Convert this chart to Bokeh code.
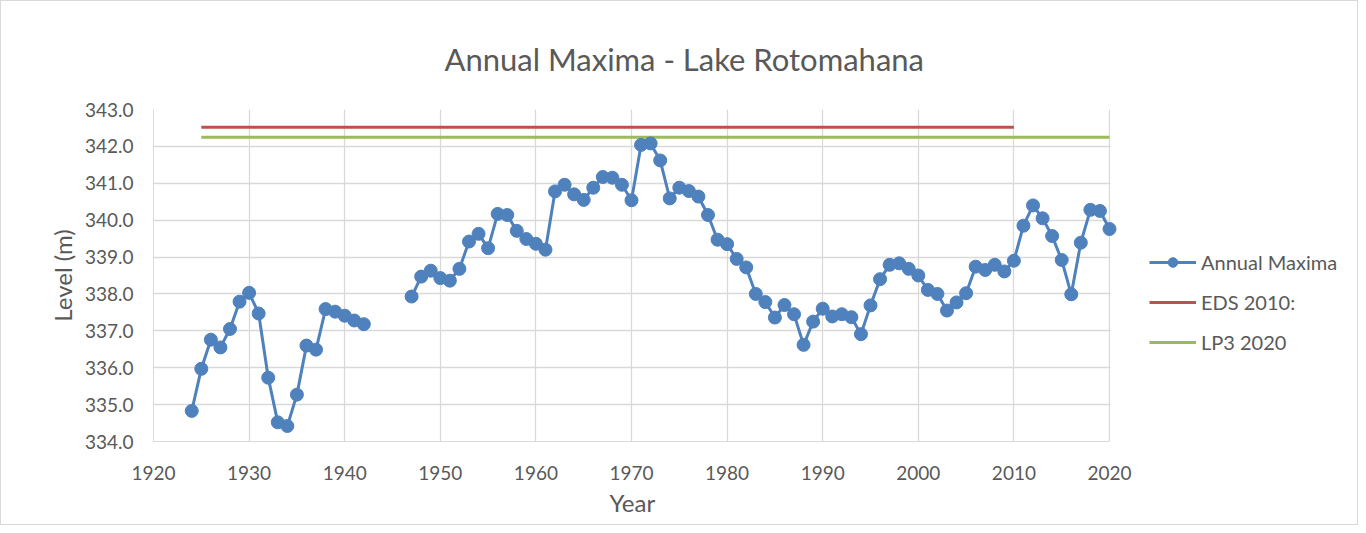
import numpy as np
from bokeh.plotting import figure
from bokeh.models import (ColumnDataSource, Legend, LegendItem, SingleIntervalTicker,
                          NumeralTickFormatter, Range1d, BoxAnnotation, Title)
from bokeh.embed import file_html
from bokeh.resources import INLINE

years = list(range(1924, 2021))
levels = [
    334.83, 335.97, 336.76, 336.55, 337.05, 337.79, 338.03, 337.47, 335.73, 334.52,  # 1924-1933
    334.42, 335.27, 336.60, 336.49, 337.59, 337.52, 337.41, 337.28, 337.18,          # 1934-1942
    None, None, None, None,                                                          # 1943-1946
    337.93, 338.47, 338.63, 338.43, 338.36, 338.68, 339.42, 339.63, 339.24, 340.17,  # 1947-1956
    340.14, 339.71, 339.49, 339.36, 339.20, 340.78, 340.96, 340.70, 340.55, 340.88,  # 1957-1966
    341.17, 341.15, 340.96, 340.54, 342.04, 342.08, 341.62, 340.59, 340.88, 340.79,  # 1967-1976
    340.64, 340.14, 339.47, 339.35, 338.95, 338.72, 338.00, 337.78, 337.36, 337.70,  # 1977-1986
    337.45, 336.62, 337.25, 337.60, 337.39, 337.45, 337.37, 336.91, 337.69, 338.40,  # 1987-1996
    338.79, 338.83, 338.68, 338.50, 338.11, 338.00, 337.55, 337.77, 338.02, 338.74,  # 1997-2006
    338.65, 338.79, 338.61, 338.90, 339.85, 340.40, 340.05, 339.57, 338.92, 337.99,  # 2007-2016
    339.39, 340.28, 340.25, 339.76,                                                  # 2017-2020
]
eds_years = [1925, 2010]
eds_level = [342.52, 342.52]
lp3_years = [1925, 2020]
lp3_level = [342.25, 342.25]

x_start, x_end = 1920, 2020
y_start, y_end = 334, 343

title_text = "Annual Maxima - Lake Rotomahana"
x_label = "Year"
y_label = "Level (m)"

FONT = "Lato"
GREY = "#595959"

# frame: 956 px for the 100-year axis; the frame is widened to the right to host the legend
FRAME_AXIS_PX = 956
FRAME_PX = 1198
x_view_end = x_start + (x_end - x_start) * FRAME_PX / FRAME_AXIS_PX

lv = [np.nan if v is None else v for v in levels]
src = ColumnDataSource(dict(x=years, y=lv))

p = figure(width=1358, height=525, output_backend="svg", toolbar_location=None,
           x_range=Range1d(x_start, x_view_end), y_range=Range1d(y_start, y_end),
           min_border_left=152, min_border_right=8, min_border_top=108, min_border_bottom=85)
p.styles = {"border": "1px solid #d9d9d9", "box-sizing": "border-box"}
p.outline_line_color = None
p.background_fill_color = "white"
p.border_fill_color = "white"

p.title = Title(text=title_text, align="left", offset=291, standoff=60, vertical_align="top",
                text_font=FONT, text_font_size="31px", text_font_style="normal",
                text_color=GREY)

for ax in (p.xaxis[0], p.yaxis[0]):
    ax.major_tick_line_color = None
    ax.minor_tick_line_color = None
    ax.axis_line_color = "#d9d9d9"
    ax.major_label_text_font = FONT
    ax.major_label_text_font_size = "19px"
    ax.major_label_text_color = GREY
    ax.axis_label_text_font = FONT
    ax.axis_label_text_font_size = "24px"
    ax.axis_label_text_color = GREY
    ax.axis_label_text_font_style = "normal"

p.xaxis[0].ticker = SingleIntervalTicker(interval=10)
p.xaxis[0].bounds = (x_start, x_end)
p.yaxis[0].ticker = SingleIntervalTicker(interval=1)
p.yaxis[0].formatter = NumeralTickFormatter(format="0.0")
p.yaxis[0].axis_label = y_label
p.xaxis[0].major_label_standoff = 18
p.yaxis[0].major_label_standoff = 14
p.yaxis[0].axis_label_standoff = 5

# x-axis label centred under the 1920-2020 span
xlab = Title(text=x_label, align="left", offset=456, standoff=6,
             text_font=FONT, text_font_size="24px", text_font_style="normal",
             text_color=GREY)
p.add_layout(xlab, "below")

p.xgrid[0].ticker = p.xaxis[0].ticker
p.ygrid[0].ticker = p.yaxis[0].ticker
p.xgrid.grid_line_color = "#d9d9d9"
p.ygrid.grid_line_color = "#d9d9d9"
p.xgrid.grid_line_width = 1.3
p.ygrid.grid_line_width = 1.3

# blank out the grid to the right of the last year (legend area)
mask = BoxAnnotation(left=x_end + 0.1, fill_color="white", fill_alpha=1.0,
                     line_color=None, level="underlay")
p.add_layout(mask)

r_eds = p.line(eds_years, eds_level, line_color="#c0504d", line_width=3)
r_lp3 = p.line(lp3_years, lp3_level, line_color="#9bbb59", line_width=3)
r_line = p.line("x", "y", source=src, line_color="#4f81bd", line_width=3)
r_pts = p.scatter("x", "y", source=src, size=13, fill_color="#4f81bd", line_color="#4f81bd")

legend = Legend(items=[
    LegendItem(label="Annual Maxima", renderers=[r_line, r_pts]),
    LegendItem(label="EDS 2010:", renderers=[r_eds]),
    LegendItem(label="LP3 2020", renderers=[r_lp3]),
], location=(996, 87))
legend.border_line_color = None
legend.background_fill_alpha = 0
legend.padding = 0
legend.margin = 0
legend.spacing = 16
legend.glyph_width = 47
legend.glyph_height = 24
legend.label_height = 24
legend.label_standoff = 5
legend.label_text_font = FONT
legend.label_text_font_size = "20px"
legend.label_text_color = GREY
p.add_layout(legend, "center")

open("out.html", "w").write(file_html(p, INLINE))
